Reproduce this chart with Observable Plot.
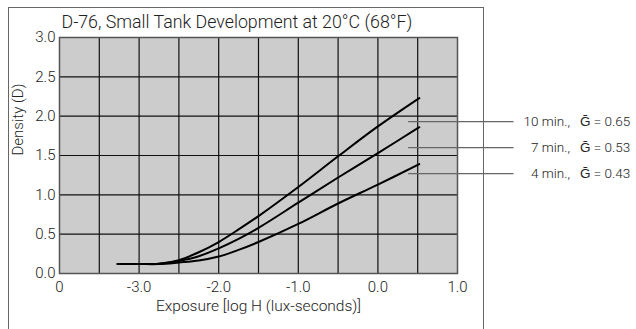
<!DOCTYPE html>
<html><head><meta charset="utf-8">
<script src="https://cdn.jsdelivr.net/npm/d3@7"></script>
<script src="https://cdn.jsdelivr.net/npm/@observablehq/plot@0.6"></script>
<style>
body{margin:0;background:#fff;}
#wrap{position:relative;width:636px;height:329px;overflow:hidden;}
#box{position:absolute;left:8px;top:7px;width:474px;height:400px;border:1px solid #666;}
#chart{position:absolute;left:0;top:0;}
</style></head><body>
<div id="wrap"><div id="box"></div><div id="chart"></div></div>
<script>
// Data
const logH = [-3.27, -3.0, -2.75, -2.5, -2.25, -2.0, -1.75, -1.5, -1.0, -0.5, 0.0, 0.52];
const dens10 = [0.12, 0.12, 0.125, 0.17, 0.27, 0.40, 0.56, 0.73, 1.10, 1.49, 1.87, 2.23];
const dens7  = [0.12, 0.12, 0.125, 0.16, 0.22, 0.32, 0.44, 0.58, 0.90, 1.22, 1.53, 1.86];
const dens4  = [0.12, 0.12, 0.12, 0.14, 0.165, 0.215, 0.30, 0.40, 0.63, 0.89, 1.13, 1.39];
const seriesNames = ["10 min.", "7 min.", "4 min."];
const legendTimes = ["10 min.,", "7 min.,", "4 min.,"];
const legendGamma = [0.65, 0.53, 0.43];
const legendY = [1.93, 1.60, 1.27];
const xTicks = [-4, -3, -2, -1, 0, 1];
const xTickLabels = ["0", "-3.0", "-2.0", "-1.0", "0.0", "1.0"];
const yTicks = [0, 0.5, 1.0, 1.5, 2.0, 2.5, 3.0];
const xGrid = [-3.5, -3.0, -2.5, -2.0, -1.5, -1.0, -0.5, 0.0, 0.5];
const yGrid = [0.5, 1.0, 1.5, 2.0, 2.5];
const title = "D-76, Small Tank Development at 20°C (68°F)";
const xLabel = "Exposure [log H (lux-seconds)]";
const yLabel = "Density (D)";

const allSeries = [dens10, dens7, dens4];
const data = [];
allSeries.forEach((s, k) => s.forEach((v, i) => data.push({series: seriesNames[k], x: logH[i], y: v})));
const legend = legendTimes.map((t, i) => ({t, g: legendGamma[i], y: legendY[i]}));

const font = "Roboto, sans-serif";

const chart = Plot.plot({
  width: 636, height: 329,
  marginLeft: 59, marginRight: 179, marginTop: 37, marginBottom: 56,
  style: {fontFamily: font, fontSize: "15px", color: "#222", background: "transparent", overflow: "visible"},
  x: {domain: [-4, 1]},
  y: {domain: [0, 3]},
  marks: [
    Plot.frame({fill: "#cccccc", stroke: null}),
    Plot.gridX(xGrid, {stroke: "#111", strokeOpacity: 1, strokeWidth: 1.2}),
    Plot.gridY(yGrid, {stroke: "#111", strokeOpacity: 1, strokeWidth: 1.2}),
    Plot.frame({stroke: "#555", strokeWidth: 1.5}),
    Plot.axisX({ticks: xTicks, tickFormat: d => xTickLabels[xTicks.indexOf(d)], tickSize: 0, tickPadding: 8, label: null, fontSize: 15, fontWeight: 300}),
    Plot.axisY({ticks: yTicks, tickFormat: d3.format(".1f"), tickSize: 0, tickPadding: 4, label: null, fontSize: 15, fontWeight: 300}),
    Plot.line(data, {x: "x", y: "y", z: "series", curve: "catmull-rom", stroke: "black", strokeWidth: 2}),
    Plot.ruleY(legend, {y: "y", x1: 0.386, x2: 1.71, stroke: "#666", strokeWidth: 1.3, clip: false}),
    Plot.text(legend, {x: 1.71, y: "y", text: "t", textAnchor: "end", dx: 56, fontSize: 13.5, fontWeight: 300, clip: false}),
    Plot.text(legend, {x: 1.71, y: "y", text: d => "Ḡ = " + d.g.toFixed(2), textAnchor: "start", dx: 66, fontSize: 13.5, fontWeight: 300, clip: false}),
    Plot.text([title], {frameAnchor: "top-left", text: d => d, textAnchor: "start", lineAnchor: "middle", dx: 2, dy: -15, fontSize: 17.8, fontWeight: 300}),
    Plot.text([xLabel], {frameAnchor: "bottom", text: d => d, lineAnchor: "middle", dy: 33, fontSize: 15.5, fontWeight: 300}),
    Plot.text([yLabel], {frameAnchor: "left", text: d => d, rotate: -90, lineAnchor: "middle", dx: -41, fontSize: 15, fontWeight: 300})
  ]
});
document.getElementById("chart").appendChild(chart);
</script>
</body></html>
